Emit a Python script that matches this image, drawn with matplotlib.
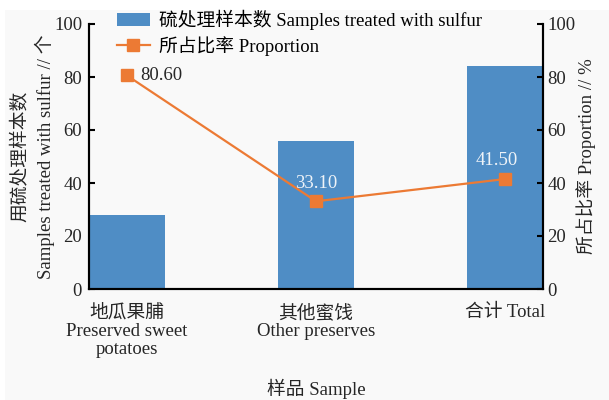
import matplotlib
matplotlib.use("Agg")
import matplotlib.pyplot as plt
from matplotlib.patches import Rectangle

plt.rcParams['font.family'] = ['Liberation Serif', 'Noto Sans CJK SC', 'DejaVu Sans']
plt.rcParams['axes.unicode_minus'] = False

categories = ["地瓜果脯\nPreserved sweet\npotatoes", "其他蜜饯\nOther preserves", "合计 Total"]
samples_treated = [28, 56, 84]
proportion = [80.60, 33.10, 41.50]
proportion_labels = ["80.60", "33.10", "41.50"]
yticks = [0, 20, 40, 60, 80, 100]

bar_color = "#4f8dc5"
line_color = "#ec7a34"
text_color = "#262626"
fs = 13.5

fig = plt.figure(figsize=(6.09, 4.0), dpi=100, facecolor="white")
fig.patches.append(Rectangle((5 / 609, 0), 1, 1 - 10 / 400, transform=fig.transFigure,
                             facecolor="#f9f9f9", edgecolor="none", zorder=-10))
ax = fig.add_axes([89 / 609, 1 - 289 / 400, (543 - 89) / 609, (289 - 24) / 400])
ax.set_facecolor("none")
ax2 = ax.twinx()

x = list(range(len(categories)))
bars = ax.bar(x, samples_treated, width=0.4, color=bar_color,
              label="硫处理样本数 Samples treated with sulfur", zorder=2)
line, = ax2.plot(x, proportion, color=line_color, lw=1.6, marker="s", markersize=8,
                 label="所占比率 Proportion", zorder=3)

ax.set_xlim(-0.2, 2.2)
ax.set_ylim(0, 100)
ax2.set_ylim(0, 100)
ax.set_yticks(yticks)
ax2.set_yticks(yticks)
ax.set_xticks(x)
ax.set_xticklabels(categories, fontsize=fs, linespacing=1.1, color=text_color)
ax.tick_params(axis="x", length=0, pad=11)
ax.tick_params(axis="y", direction="in", length=4, width=1.5, labelsize=fs, pad=5,
               labelcolor=text_color)
ax2.tick_params(axis="y", direction="in", length=4, width=1.5, labelsize=fs, pad=3,
                labelcolor=text_color)

for a in (ax, ax2):
    a.spines["top"].set_visible(False)
    for s in ("left", "right", "bottom"):
        a.spines[s].set_linewidth(1.5)
        a.spines[s].set_color("black")

ax.set_ylabel("用硫处理样本数\nSamples treated with sulfur // 个", fontsize=fs,
              color=text_color, linespacing=1.4, labelpad=-1)
ax2.set_ylabel("所占比率 Proportion // %", fontsize=fs, color=text_color, labelpad=1)
ax.set_xlabel("样品 Sample", fontsize=fs, color=text_color, labelpad=15)

# value labels for the proportion line
ax2.annotate(proportion_labels[0], (x[0], proportion[0]), xytext=(10, 0),
             textcoords="offset points", ha="left", va="center", fontsize=fs, color=text_color)
ax2.annotate(proportion_labels[1], (x[1], proportion[1]), xytext=(0, 13),
             textcoords="offset points", ha="center", va="center", fontsize=fs, color="#eef3f8")
ax2.annotate(proportion_labels[2], (x[2], proportion[2]), xytext=(-6, 13),
             textcoords="offset points", ha="center", va="center", fontsize=fs, color="#eef3f8")

fig.legend([bars, line], [bars.get_label(), line.get_label()], loc="upper left",
           bbox_to_anchor=(117 / 609, 1 - 10 / 400), frameon=False, fontsize=fs,
           borderpad=0, borderaxespad=0, labelspacing=0.3, handlelength=1.75,
           handletextpad=0.5)

fig.savefig("out.png", dpi=100, facecolor="white")
